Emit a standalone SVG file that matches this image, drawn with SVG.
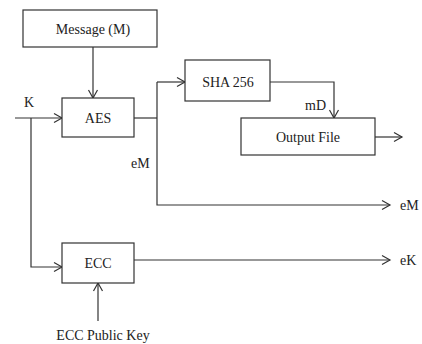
<svg xmlns="http://www.w3.org/2000/svg" width="422" height="344" viewBox="0 0 422 344">
<style>
.box{fill:#fff;stroke:#333;stroke-width:1.2}
.ln{fill:none;stroke:#333;stroke-width:1.2}
.t{font-family:'Liberation Serif','DejaVu Serif',serif;font-size:14px;fill:#222}
.c{text-anchor:middle}
</style>
<defs>
<marker id="ah" markerWidth="12" markerHeight="12" refX="9" refY="6" orient="auto" markerUnits="userSpaceOnUse">
<path d="M1,1.5 L9,6 L1,10.5" fill="none" stroke="#333" stroke-width="1.2"/>
</marker>
</defs>
<rect width="422" height="344" fill="#fff"/>
<g id="connectors">
<path class="ln" d="M93,47 V98" marker-end="url(#ah)"/>
<path class="ln" d="M15,118 H62" marker-end="url(#ah)"/>
<path class="ln" d="M31,118 V267 H62" marker-end="url(#ah)"/>
<path class="ln" d="M134,118 H157"/>
<path class="ln" d="M157,82 V205 H390" marker-end="url(#ah)"/>
<path class="ln" d="M157,82 H185" marker-end="url(#ah)"/>
<path class="ln" d="M270,82 H334 V118" marker-end="url(#ah)"/>
<path class="ln" d="M375,137 H402" marker-end="url(#ah)"/>
<path class="ln" d="M134,260 H390" marker-end="url(#ah)"/>
<path class="ln" d="M98,321 V283" marker-end="url(#ah)"/>
</g>
<g id="message"><rect class="box" x="23" y="10" width="134" height="37"/><text class="t c" x="93" y="34" font-family="Liberation Serif, serif">Message (M)</text></g>
<g id="aes"><rect class="box" x="62" y="98" width="72" height="39"/><text class="t c" x="98" y="123">AES</text></g>
<g id="sha"><rect class="box" x="185" y="60" width="85" height="41"/><text class="t c" x="228" y="87">SHA 256</text></g>
<g id="output"><rect class="box" x="241" y="118" width="134" height="37"/><text class="t c" x="308" y="142">Output File</text></g>
<g id="ecc"><rect class="box" x="62" y="243" width="72" height="40"/><text class="t c" x="98" y="268">ECC</text></g>
<g id="labels">
<text class="t" x="24" y="107">K</text>
<text class="t" x="131" y="168">eM</text>
<text class="t" x="305" y="110">mD</text>
<text class="t" x="400" y="210">eM</text>
<text class="t" x="400" y="265">eK</text>
<text class="t c" x="103" y="340">ECC Public Key</text>
</g>
</svg>
